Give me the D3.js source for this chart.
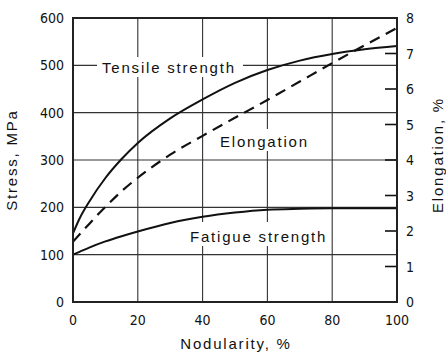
<!DOCTYPE html>
<html>
<head>
<meta charset="utf-8">
<script src="https://cdn.jsdelivr.net/npm/d3@7"></script>
<style>
  html, body { margin: 0; padding: 0; background: #fff; }
  svg { display: block; }
  .lbl { font-family: "Liberation Sans", Arial, Helvetica, sans-serif; font-size: 15px; letter-spacing: 1.8px; fill: #111; }
  .tick-lbl { font-family: "DejaVu Sans Condensed", "Liberation Sans Narrow", "Arial Narrow", sans-serif; font-stretch: condensed; font-size: 14px; fill: #111; }
</style>
</head>
<body>
<script>
// Nodularity grid (%) shared by all three curves
const nodularity = [0, 2, 5, 10, 15, 20, 30, 40, 50, 60, 70, 80, 90, 100];
// Tensile strength, MPa (left axis)
const tensileStrength = [145, 176, 212, 262, 302, 336, 388, 428, 463, 490, 510, 524, 534, 541];
// Fatigue strength, MPa (left axis)
const fatigueStrength = [100, 106, 115, 128, 139, 149, 167, 180, 189, 195, 197, 198, 198, 198];
// Elongation, % (right axis)
const elongation = [1.70, 1.90, 2.20, 2.68, 3.12, 3.50, 4.15, 4.68, 5.19, 5.69, 6.21, 6.73, 7.23, 7.72];

const xTicks = [0, 20, 40, 60, 80, 100];
const stressTicks = [0, 100, 200, 300, 400, 500, 600];
const elongTicks = [0, 1, 2, 3, 4, 5, 6, 7, 8];

const W = 446, H = 356;
const plotL = 73, plotR = 397, plotT = 18, plotB = 302;

const svg = d3.select("body").append("svg").attr("width", W).attr("height", H);

const x = d3.scaleLinear().domain([0, 100]).range([plotL, plotR]);
const yS = d3.scaleLinear().domain([0, 600]).range([plotB, plotT]);
const yE = d3.scaleLinear().domain([0, 8]).range([plotB, plotT]);

// Grid
const grid = svg.append("g").attr("stroke", "#333").attr("stroke-width", 1.1);
grid.selectAll(".h").data(stressTicks.slice(1, -1)).join("line")
  .attr("x1", plotL).attr("x2", plotR)
  .attr("y1", d => yS(d)).attr("y2", d => yS(d));
grid.selectAll(".v").data(xTicks.slice(1, -1)).join("line")
  .attr("x1", d => x(d)).attr("x2", d => x(d))
  .attr("y1", plotT).attr("y2", plotB);

// Right axis inward ticks
svg.append("g").attr("stroke", "#111").attr("stroke-width", 1.6)
  .selectAll("line").data(elongTicks.slice(1, -1)).join("line")
  .attr("x1", plotR - 12).attr("x2", plotR)
  .attr("y1", d => yE(d)).attr("y2", d => yE(d));

// Label knock-outs
const labels = [
  { text: "Tensile strength", x: 102, y: 73, box: [97, 57, 146, 20] },
  { text: "Elongation", x: 220, y: 147, box: [215, 129, 100, 22] },
  { text: "Fatigue strength", x: 190, y: 242, box: [185, 222, 145, 24] }
];
svg.append("g").selectAll("rect").data(labels).join("rect")
  .attr("x", d => d.box[0]).attr("y", d => d.box[1])
  .attr("width", d => d.box[2]).attr("height", d => d.box[3])
  .attr("fill", "#fff");

// Curves
const lineS = vals => d3.line().x((d, i) => x(nodularity[i])).y(d => yS(d)).curve(d3.curveMonotoneX)(vals);
const lineE = vals => d3.line().x((d, i) => x(nodularity[i])).y(d => yE(d)).curve(d3.curveMonotoneX)(vals);

svg.append("path").attr("d", lineS(tensileStrength))
  .attr("fill", "none").attr("stroke", "#111").attr("stroke-width", 2);
svg.append("path").attr("d", lineS(fatigueStrength))
  .attr("fill", "none").attr("stroke", "#111").attr("stroke-width", 2);
svg.append("path").attr("d", lineE(elongation))
  .attr("fill", "none").attr("stroke", "#111").attr("stroke-width", 2.2)
  .attr("stroke-dasharray", "11,7");

// Frame
svg.append("rect").attr("x", plotL).attr("y", plotT)
  .attr("width", plotR - plotL).attr("height", plotB - plotT)
  .attr("fill", "none").attr("stroke", "#222").attr("stroke-width", 2);

// Curve labels
svg.append("g").selectAll("text").data(labels).join("text")
  .attr("class", "lbl").attr("x", d => d.x).attr("y", d => d.y).text(d => d.text);

// Tick labels
svg.append("g").selectAll("text").data(stressTicks).join("text")
  .attr("class", "tick-lbl").attr("x", 64).attr("y", d => yS(d))
  .attr("dy", "0.36em").attr("text-anchor", "end").text(d => d);
svg.append("g").selectAll("text").data(xTicks).join("text")
  .attr("class", "tick-lbl").attr("x", d => x(d)).attr("y", 325)
  .attr("text-anchor", "middle").text(d => d);
svg.append("g").selectAll("text").data(elongTicks).join("text")
  .attr("class", "tick-lbl").attr("x", 406).attr("y", d => yE(d))
  .attr("dy", "0.36em").text(d => d);

// Axis titles
svg.append("text").attr("class", "lbl").attr("x", 236).attr("y", 349)
  .attr("text-anchor", "middle").text("Nodularity, %");
svg.append("text").attr("class", "lbl")
  .attr("transform", "translate(17,160) rotate(-90)")
  .attr("text-anchor", "middle").text("Stress, MPa");
svg.append("text").attr("class", "lbl")
  .attr("transform", "translate(443,155) rotate(-90)")
  .attr("text-anchor", "middle").text("Elongation, %");
</script>
</body>
</html>
